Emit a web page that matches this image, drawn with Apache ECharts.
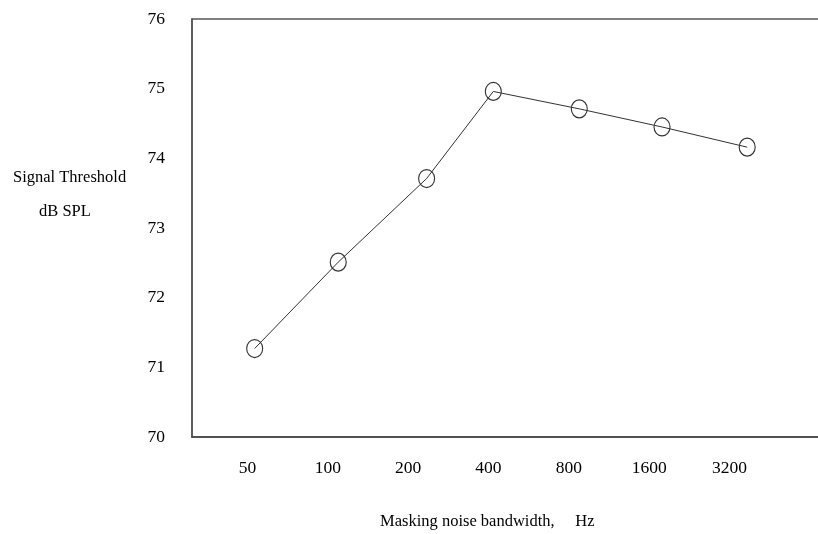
<!DOCTYPE html>
<html>
<head>
<meta charset="utf-8">
<script src="https://cdn.jsdelivr.net/npm/echarts@6/dist/echarts.min.js"></script>
<style>
html,body{margin:0;padding:0;background:#fff;}
#chart{width:818px;height:534px;}
</style>
</head>
<body>
<div id="chart"></div>
<script>
// Tick labels of the bandwidth axis (octave steps)
const bandwidthLabels = ['50', '100', '200', '400', '800', '1600', '3200'];
// Point positions in octave units (0 = 50 Hz label)
const pointOctave = [0.09, 1.13, 2.23, 3.06, 4.13, 5.16, 6.22];
// Signal threshold, dB SPL
const threshold = [71.27, 72.51, 73.71, 74.96, 74.71, 74.45, 74.16];
const yTicks = [70, 71, 72, 73, 74, 75, 76];

const font = '"Liberation Serif", "Times New Roman", serif';
const chart = echarts.init(document.getElementById('chart'), null, {renderer: 'canvas'});

const seriesData = pointOctave.map((x, i) => [x, threshold[i]]);

chart.setOption({
  animation: false,
  backgroundColor: '#ffffff',
  grid: {
    left: 192, top: 19, width: 646, height: 418,
    containLabel: false,
    outerBoundsMode: 'none',
    show: true, borderColor: '#555', borderWidth: 1.5, backgroundColor: 'transparent'
  },
  xAxis: {
    type: 'value',
    min: -0.69, max: 7.35,
    axisLine: {show: true, onZero: false, lineStyle: {color: '#444', width: 1.5}},
    axisTick: {show: false},
    splitLine: {show: false},
    axisLabel: {
      customValues: bandwidthLabels.map((_, i) => i),
      formatter: v => bandwidthLabels[Math.round(v)],
      margin: 22,
      color: '#000',
      fontFamily: font,
      fontSize: 17.5
    }
  },
  yAxis: {
    type: 'value',
    min: yTicks[0], max: yTicks[yTicks.length - 1], interval: 1,
    axisLine: {show: true, onZero: false, lineStyle: {color: '#555', width: 1.5}},
    axisTick: {show: false},
    splitLine: {show: false},
    axisLabel: {
      margin: 27,
      color: '#000',
      fontFamily: font,
      fontSize: 17.5,
      verticalAlign: 'middle'
    }
  },
  graphic: [
    {type: 'text', left: 13, top: 169, style: {text: 'Signal Threshold', fill: '#000', font: '16.5px ' + font}},
    {type: 'text', left: 39, top: 203, style: {text: 'dB SPL', fill: '#000', font: '16.5px ' + font}},
    {type: 'text', left: 380, top: 513, style: {text: 'Masking noise bandwidth,     Hz', fill: '#000', font: '16.5px ' + font}}
  ],
  series: [{
    type: 'line',
    data: seriesData,
    symbol: 'circle',
    symbolSize: [16, 18],
    lineStyle: {color: '#333', width: 1},
    itemStyle: {color: 'rgba(0,0,0,0)', borderColor: '#333', borderWidth: 1.2},
    emphasis: {disabled: true}
  }]
});
</script>
</body>
</html>
